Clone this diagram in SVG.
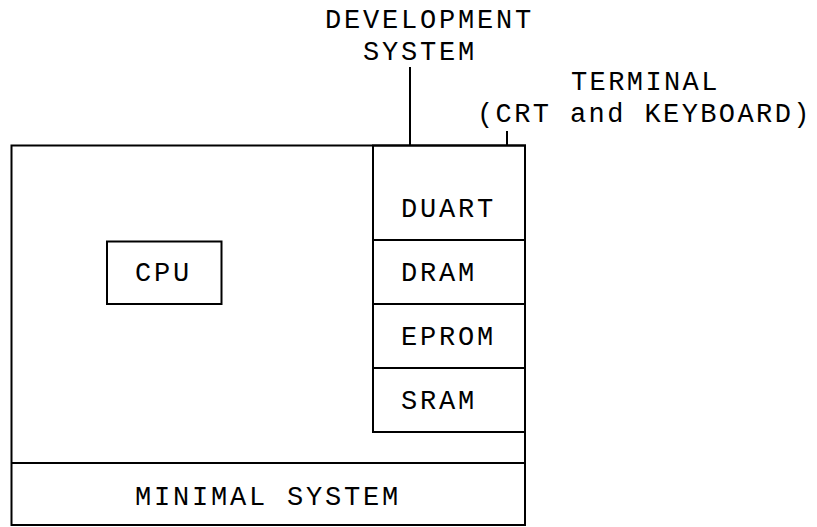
<svg xmlns="http://www.w3.org/2000/svg" width="817" height="527" viewBox="0 0 817 527">
  <style>
    .box { fill: none; stroke: #000; stroke-width: 2; }
    .wire { fill: none; stroke: #000; stroke-width: 2; }
    .lbl { font-family: "Liberation Mono", "DejaVu Sans Mono", monospace; font-size: 27px; letter-spacing: 2.8px; fill: #000; }
    .tight { letter-spacing: 2.4px; }
  </style>
  <rect width="817" height="527" fill="#fff"/>

  <!-- board outline with the minimal-system strip along the bottom -->
  <g id="board">
    <rect class="box" x="11.5" y="145.5" width="513.5" height="379.5"/>
  </g>
  <g id="minimal-system">
    <line class="box" x1="11.5" y1="463" x2="525" y2="463"/>
    <text class="lbl" x="135" y="505">MINIMAL SYSTEM</text>
  </g>

  <g id="cpu">
    <rect class="box" x="107" y="241.5" width="114.5" height="62.5"/>
    <text class="lbl" x="135" y="281">CPU</text>
  </g>

  <!-- peripheral / memory column -->
  <g id="duart">
    <rect class="box" x="373" y="145.5" width="152" height="94.5"/>
    <text class="lbl" x="401" y="217">DUART</text>
  </g>
  <g id="dram">
    <rect class="box" x="373" y="240" width="152" height="64"/>
    <text class="lbl" x="401" y="281">DRAM</text>
  </g>
  <g id="eprom">
    <rect class="box" x="373" y="304" width="152" height="64"/>
    <text class="lbl" x="401" y="345">EPROM</text>
  </g>
  <g id="sram">
    <rect class="box" x="373" y="368" width="152" height="64"/>
    <text class="lbl" x="401" y="409">SRAM</text>
  </g>

  <!-- external equipment -->
  <g id="development-system">
    <text class="lbl" x="325" y="28">DEVELOPMENT</text>
    <text class="lbl" x="363" y="60">SYSTEM</text>
  </g>
  <g id="terminal">
    <text class="lbl tight" x="571" y="90">TERMINAL</text>
    <text class="lbl tight" x="477" y="122">(CRT and KEYBOARD)</text>
  </g>

  <g id="connectors">
    <line class="wire" x1="410" y1="67" x2="410" y2="145.5"/>
    <line class="wire" x1="507" y1="131" x2="507" y2="145.5"/>
  </g>
</svg>
